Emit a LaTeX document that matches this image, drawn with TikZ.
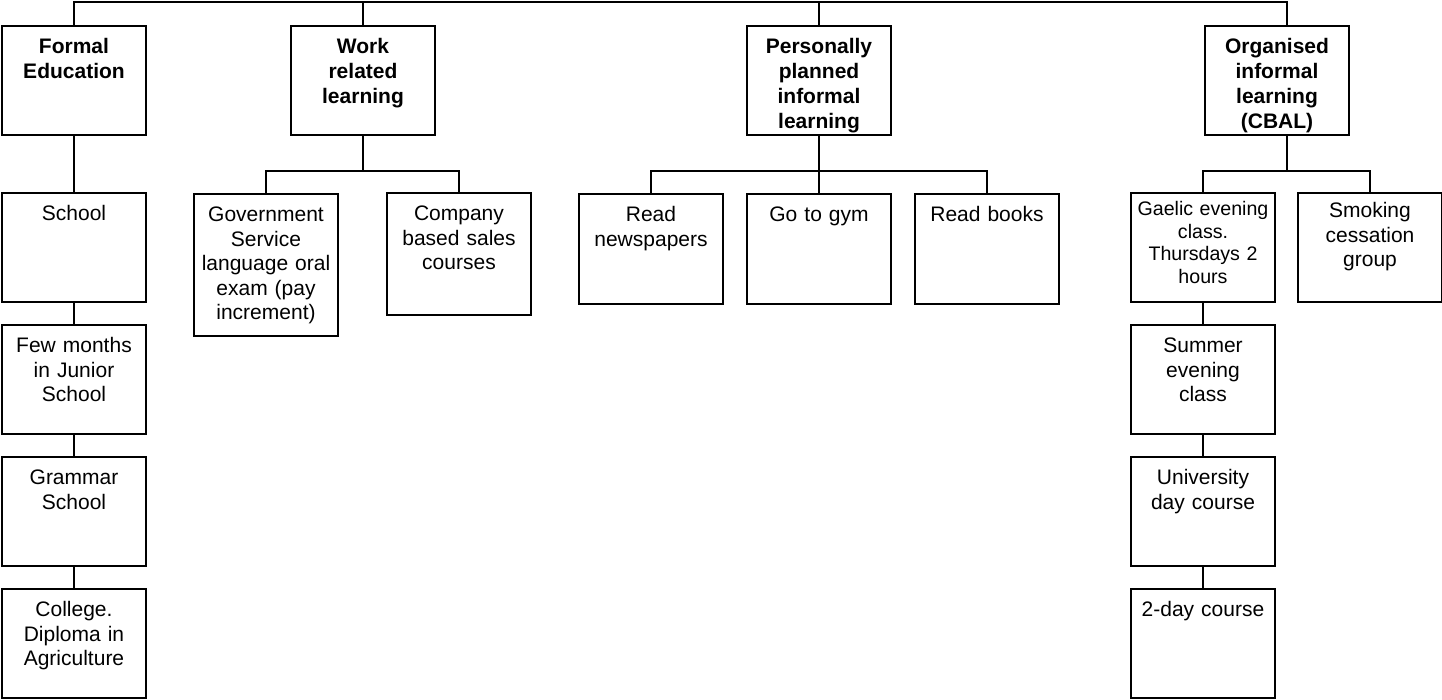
\documentclass[tikz,border=0pt]{standalone}
\usepackage{fontspec}
\setmainfont{Liberation Sans}
\usetikzlibrary{positioning}

\begin{document}
\begin{tikzpicture}[
    node distance=11.5pt,
    block/.style={
        rectangle,
        draw,
        line width=0.75pt,
        outer sep=0pt,
        align=center,
        text width=68pt,
        inner xsep=2pt,
        inner ysep=6.5pt,
        text height=7.5pt,
        text depth=34pt,
        font=\fontsize{10.5}{12.2}\selectfont
    },
    head/.style={
        block,
        anchor=north,
        font=\fontsize{10.5}{12.5}\selectfont\bfseries
    },
    link/.style={
        line width=0.75pt
    }
]

\useasboundingbox (0,0) rectangle (721pt,-350pt);

\node[head] (formal) at (37pt,-13pt) {Formal\\Education};
\node[head] (work) at (181.5pt,-13pt) {Work\\related\\learning};
\node[head] (personal) at (409.5pt,-13pt) {Personally\\planned\\informal\\learning};
\node[head] (organised) at (638.5pt,-13pt) {Organised\\informal\\learning\\(CBAL)};

% formal education chain
\node[block, below=29pt of formal] (school) {School};
\node[block, below=of school] (junior) {Few months\\in Junior\\School};
\node[block, below=of junior] (grammar) {Grammar\\School};
\node[block, below=of grammar] (college) {College.\\Diploma in\\Agriculture};

% work related
\node[block, below=29.5pt of work, xshift=-48.5pt, text depth=50.5pt] (government) {Government\\Service\\language oral\\exam (pay\\increment)};
\node[block, below=29pt of work, xshift=48pt, text depth=40.5pt] (company) {Company\\based sales\\courses};

% personally planned
\node[block, below=29.5pt of personal, text depth=34.5pt] (gym) {Go to gym};
\node[block, left=12pt of gym, text depth=34.5pt] (newspapers) {Read\\newspapers};
\node[block, right=12pt of gym, text depth=34.5pt] (books) {Read books};

% organised informal
\node[block, below=29pt of organised, xshift=-37pt, font=\fontsize{9.8}{11.4}\selectfont, text height=4.7pt, text depth=36.8pt] (gaelic) {Gaelic evening\\class.\\Thursdays 2\\hours};
\node[block, right=11.5pt of gaelic, text height=6pt, text depth=35.5pt] (smoking) {Smoking\\cessation\\group};
\node[block, below=of gaelic] (summer) {Summer\\evening\\class};
\node[block, below=of summer] (university) {University\\day course};
\node[block, below=of university] (twoday) {2-day course};

% top bar
\draw[link] (formal.north) -- ++(0,12pt) -| ([xshift=5pt]organised.north);
\draw[link] (work.north) -- ++(0,12pt);
\draw[link] (personal.north) -- ++(0,12pt);

\draw[link] (formal) -- (school);
\draw[link] (school) -- (junior);
\draw[link] (junior) -- (grammar);
\draw[link] (grammar) -- (college);

\draw[link] (work.south) -- ++(0,-18pt) coordinate (workfork);
\draw[link] (workfork) -| (government.north);
\draw[link] (workfork) -| (company.north);

\draw[link] (personal.south) -- ++(0,-18pt) coordinate (personalfork);
\draw[link] (personalfork) -| (newspapers.north);
\draw[link] (personalfork) -- (gym.north);
\draw[link] (personalfork) -| (books.north);

\draw[link] ([xshift=5pt]organised.south) -- ++(0,-18pt) coordinate (organisedfork);
\draw[link] (organisedfork) -| (gaelic.north);
\draw[link] (organisedfork) -| (smoking.north);

\draw[link] (gaelic) -- (summer);
\draw[link] (summer) -- (university);
\draw[link] (university) -- (twoday);

\end{tikzpicture}
\end{document}
